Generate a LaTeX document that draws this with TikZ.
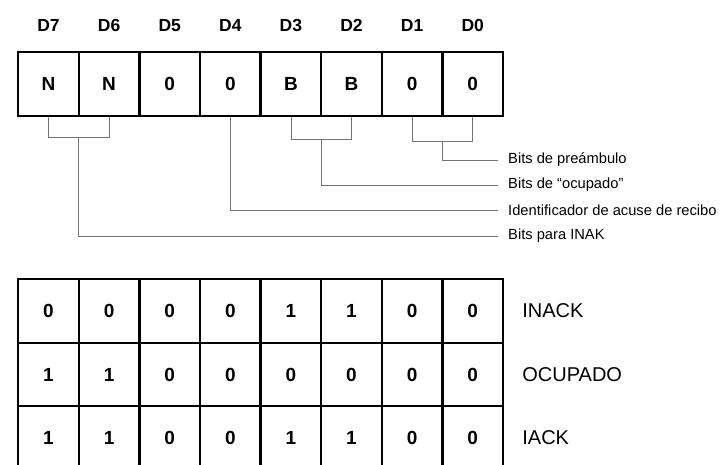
\documentclass[tikz,border=0pt]{standalone}
\usepackage{fontspec}
\setmainfont{Liberation Sans}
\usetikzlibrary{calc}
\begin{document}
\begin{tikzpicture}[x=1pt,y=-1pt,
  cell/.style={draw, line width=2.4pt, minimum width=60.6pt, minimum height=64pt,
    inner sep=0pt, anchor=north west, text height=13.5pt, text depth=0pt,
    font=\fontsize{19}{19}\selectfont\bfseries},
  tcell/.style={cell, minimum height=63.5pt},
  dlabel/.style={inner sep=0pt, text height=12.5pt, text depth=0pt,
    font=\fontsize{17.5}{17.5}\selectfont\bfseries},
  lab/.style={anchor=west, inner sep=0pt, font=\fontsize{14.7}{14.7}\selectfont},
  rowlab/.style={anchor=west, inner sep=0pt, text height=14pt, text depth=0pt,
    font=\fontsize{20}{20}\selectfont},
  conn/.style={draw=black!55, line width=0.8pt}]
\useasboundingbox (0,0) rectangle (720,464);
\clip (0,0) rectangle (720,464);
% top register
\foreach \i/\t [count=\k from 0] in {7/N,6/N,5/0,4/0,3/B,2/B,1/0,0/0} {
  \node[cell] (r\i) at ({17+60.6*\k},51) {\t};
  \node[dlabel] (d\i) at (r\i.center |- 0,25) {D\i};
}
% labels
\node[lab] (lpre) at (508,160) {Bits de preámbulo};
\node[lab] (locu) at (508,185) {Bits de “ocupado”};
\node[lab] (lide) at (508,210) {Identificador de acuse de recibo};
\node[lab] (lina) at (508,236) {Bits para INAK};
% connectors
\coordinate (j10) at ($(r1.south)!0.5!(r0.south)+(0,24)$);
\draw[conn] (r1.south) |- (j10) -| (r0.south);
\draw[conn] (j10) |- ([xshift=-10pt]lpre.west);
\coordinate (j32) at ($(r3.south)!0.5!(r2.south)+(0,22)$);
\draw[conn] (r3.south) |- (j32) -| (r2.south);
\draw[conn] (j32) |- ([xshift=-10pt]locu.west);
\draw[conn] (r4.south) |- ([xshift=-10pt]lide.west);
\coordinate (j76) at ($(r7.south)!0.5!(r6.south)+(0,20)$);
\draw[conn] (r7.south) |- (j76) -| (r6.south);
\draw[conn] (j76) |- ([xshift=-10pt]lina.west);
% table
\foreach \r/\y/\name/\vals in {a/278/INACK/{0,0,0,0,1,1,0,0},b/341.5/OCUPADO/{1,1,0,0,0,0,0,0},c/405/IACK/{1,1,0,0,1,1,0,0}} {
  \foreach \v [count=\k from 0] in \vals {
    \node[tcell] (t\r\k) at ({17+60.6*\k},\y) {\v};
  }
  \node[rowlab] (n\r) at ($(t\r7.east)+(18,0)$) {\name};
}
\end{tikzpicture}
\end{document}
